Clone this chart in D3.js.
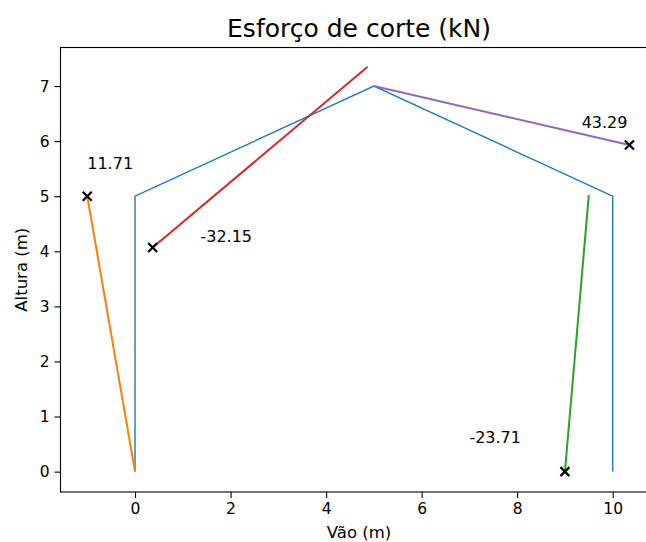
<!DOCTYPE html>
<html>
<head>
<meta charset="utf-8">
<script src="https://cdn.jsdelivr.net/npm/d3@7"></script>
<style>
  html, body { margin: 0; padding: 0; background: #fff; }
  svg { display: block; font-family: "DejaVu Sans", sans-serif; }
</style>
</head>
<body>
<svg id="chart" width="646" height="542"></svg>
<script>
// ---- data ----
const title = "Esforço de corte (kN)";
const xLabel = "Vão (m)";
const yLabel = "Altura (m)";
const xTicks = [0, 2, 4, 6, 8, 10];
const yTicks = [0, 1, 2, 3, 4, 5, 6, 7];

// frame (portico)
const frameX = [0, 0, 5, 10, 10];
const frameY = [0, 5, 7, 5, 0];

// shear diagrams: start/end points, marker, label text & position
const shearNames   = ["orange", "red", "purple", "green"];
const shearColors  = ["#ff7f0e", "#d62728", "#9467bd", "#2ca02c"];
const shearX       = [[0, -1], [0.37, 4.87], [5, 10.35], [9.0, 9.5]];
const shearY       = [[0, 5], [4.07, 7.35], [7, 5.93], [0, 5.02]];
const markerX      = [-1, 0.37, 10.35, 9.0];
const markerY      = [5, 4.07, 5.93, 0];
const labelText    = ["11.71", "-32.15", "43.29", "-23.71"];
const labelX       = [-1.0, 1.37, 9.35, 7.0];
const labelY       = [5.5, 4.17, 6.24, 0.52];

// ---- layout ----
const svg = d3.select("#chart");
const mLeft = 60.5, mRight = 657.6, mTop = 47.5, mBottom = 492;
const x = d3.scaleLinear().domain([-1.56, 10.94]).range([mLeft, mRight]);
const y = d3.scaleLinear().domain([-0.37, 7.70]).range([mBottom, mTop]);

// title
svg.append("text")
  .attr("x", (mLeft + mRight) / 2).attr("y", 37)
  .attr("text-anchor", "middle")
  .attr("font-size", 25).attr("fill", "#000")
  .text(title);

// axes
const xAxis = d3.axisBottom(x).tickValues(xTicks).tickSize(6).tickPadding(5).tickFormat(d3.format("d"));
const yAxis = d3.axisLeft(y).tickValues(yTicks).tickSize(6).tickPadding(5).tickFormat(d3.format("d"));

const gx = svg.append("g").attr("transform", `translate(0,${mBottom})`).call(xAxis);
const gy = svg.append("g").attr("transform", `translate(${mLeft},0)`).call(yAxis);
[gx, gy].forEach(g => {
  g.select(".domain").remove();
  g.selectAll(".tick line").attr("stroke", "#000").attr("stroke-width", 1.1);
  g.selectAll(".tick text").attr("font-size", 15.5).attr("fill", "#000").attr("font-family", "DejaVu Sans");
});

// data lines
const line = d3.line().x(d => x(d[0])).y(d => y(d[1]));
const framePts = frameX.map((v, i) => [v, frameY[i]]);
svg.append("path").attr("d", line(framePts))
  .attr("fill", "none").attr("stroke", "#1f77b4").attr("stroke-width", 1.4)
  .attr("stroke-linejoin", "miter");

shearNames.forEach((n, i) => {
  const pts = shearX[i].map((v, j) => [v, shearY[i][j]]);
  svg.append("path").attr("d", line(pts))
    .attr("fill", "none").attr("stroke", shearColors[i]).attr("stroke-width", 2);
});

// markers
const ms = 4.5;
shearNames.forEach((n, i) => {
  const cx = x(markerX[i]), cy = y(markerY[i]);
  svg.append("path")
    .attr("d", `M${cx - ms},${cy - ms}L${cx + ms},${cy + ms}M${cx - ms},${cy + ms}L${cx + ms},${cy - ms}`)
    .attr("stroke", "#000").attr("stroke-width", 2.2).attr("fill", "none");
});

// labels
shearNames.forEach((n, i) => {
  svg.append("text")
    .attr("x", x(labelX[i])).attr("y", y(labelY[i]))
    .attr("font-size", 16).attr("fill", "#000")
    .text(labelText[i]);
});

// spines
svg.append("rect")
  .attr("x", mLeft).attr("y", mTop)
  .attr("width", mRight - mLeft).attr("height", mBottom - mTop)
  .attr("fill", "none").attr("stroke", "#000").attr("stroke-width", 1.1);

// axis labels
svg.append("text")
  .attr("x", (mLeft + mRight) / 2).attr("y", 538)
  .attr("text-anchor", "middle").attr("font-size", 16.5).attr("fill", "#000")
  .text(xLabel);
svg.append("text")
  .attr("transform", `translate(27,${(mTop + mBottom) / 2}) rotate(-90)`)
  .attr("text-anchor", "middle").attr("font-size", 16.5).attr("fill", "#000")
  .text(yLabel);
</script>
</body>
</html>
